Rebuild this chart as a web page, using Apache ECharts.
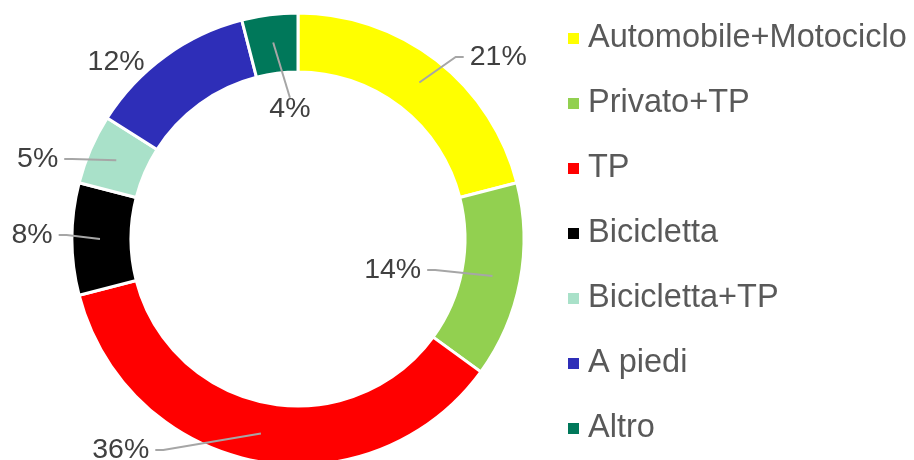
<!DOCTYPE html>
<html>
<head>
<meta charset="utf-8">
<script src="https://cdn.jsdelivr.net/npm/echarts@6/dist/echarts.min.js"></script>
<style>
  html, body { margin: 0; padding: 0; background: #fff; }
  #chart { width: 914px; height: 460px; }
</style>
</head>
<body>
<div id="chart"></div>
<script>
// dati
const categories = ['Automobile+Motociclo', 'Privato+TP', 'TP', 'Bicicletta', 'Bicicletta+TP', 'A piedi', 'Altro']
const values = [21, 14, 36, 8, 5, 12, 4]
const colors = ['#FFFF00', '#92D050', '#FF0000', '#000000', '#A9E1C9', '#2E2EB8', '#00785A']

// posizione etichette: [angolo dall'alto in gradi, distanza dal centro, linea guida]
const labelSpots = [
  [47.4, 272, true],
  [107, 99, true],
  [220.3, 274, true],
  [271.3, 266, true],
  [287.5, 273, true],
  [314.5, 255, false],
  [356.5, 132, true]
]

const CX = 298
const CY = 239
const R_IN = 167
const R_OUT = 226

const total = values.reduce((a, b) => a + b, 0)
const midAngles = []
let acc = 0
values.forEach((v) => {
  midAngles.push((acc + v / 2) / total * 360)
  acc += v
})

const polar = (deg, r) => {
  const a = deg * Math.PI / 180
  return [CX + r * Math.sin(a), CY - r * Math.cos(a)]
}

const chart = echarts.init(document.getElementById('chart'))

const option = {
  animation: false,
  legend: {
    orient: 'vertical',
    left: 561,
    top: 17,
    bottom: 0,
    itemWidth: 13,
    itemHeight: 13,
    itemGap: 32,
    icon: 'rect',
    data: categories,
    textStyle: {
      fontFamily: 'Liberation Sans',
      fontSize: 32.5,
      lineHeight: 31,
      color: '#595959',
      padding: [0, 0, 0, 3]
    }
  },
  series: [
    {
      type: 'pie',
      center: [CX, CY],
      radius: [R_IN, R_OUT],
      startAngle: 90,
      clockwise: true,
      avoidLabelOverlap: false,
      itemStyle: {
        borderColor: '#ffffff',
        borderWidth: 3
      },
      label: {
        show: true,
        position: 'outside',
        formatter: '{c}%',
        fontFamily: 'Liberation Sans',
        fontSize: 28.5,
        color: '#404040'
      },
      labelLine: {
        show: true,
        lineStyle: { color: '#A6A6A6', width: 2 }
      },
      labelLayout: (params) => {
        const i = params.dataIndex
        const spot = labelSpots[i]
        const [lx, ly0] = polar(spot[0], spot[1])
        const ly = ly0 + 2
        const w = params.labelRect.width
        const h = params.labelRect.height
        const s = polar(midAngles[i], 198)
        let pts
        if (!spot[2]) {
          pts = [[lx, ly], [lx, ly], [lx, ly]]
        } else if (Math.abs(s[0] - lx) < w / 2) {
          const ey = s[1] < ly ? ly - h / 2 + 3 : ly + h / 2 - 3
          pts = [s, [lx, ey], [lx, ey]]
        } else {
          const dir = s[0] > lx ? 1 : -1
          const ex = lx + dir * (w / 2 + 6)
          pts = [s, [ex + dir * 8, ly], [ex, ly]]
        }
        return {
          x: lx,
          y: ly,
          align: 'center',
          verticalAlign: 'middle',
          labelLinePoints: pts
        }
      },
      data: categories.map((name, i) => ({
        name: name,
        value: values[i],
        itemStyle: { color: colors[i] },
        labelLine: { show: labelSpots[i][2] }
      }))
    }
  ]
}

chart.setOption(option)

// linee guida sopra gli spicchi, come nell'originale
const zr = chart.getZr()
zr.storage.getDisplayList(true).forEach((el) => {
  if (el.type === 'polyline') {
    el.z2 = 100
    el.markRedraw()
  }
})
zr.refreshImmediately()
</script>
</body>
</html>
